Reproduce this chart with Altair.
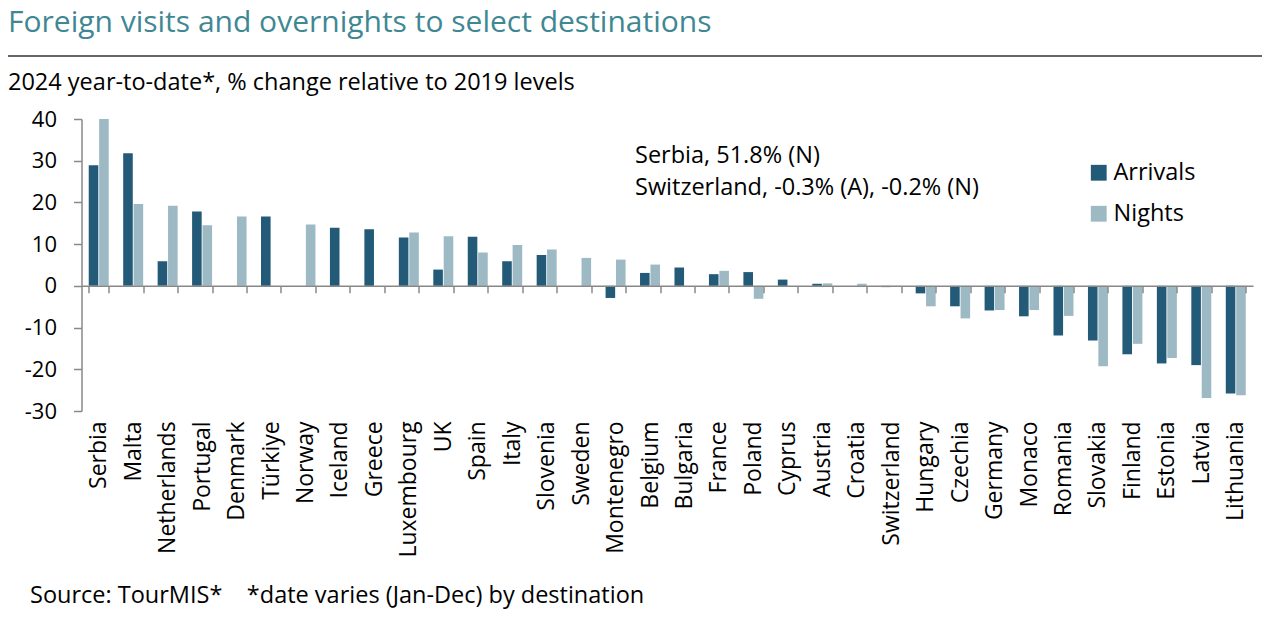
import altair as alt
import pandas as pd

countries = ["Serbia", "Malta", "Netherlands", "Portugal", "Denmark", "Türkiye", "Norway",
             "Iceland", "Greece", "Luxembourg", "UK", "Spain", "Italy", "Slovenia", "Sweden",
             "Montenegro", "Belgium", "Bulgaria", "France", "Poland", "Cyprus", "Austria",
             "Croatia", "Switzerland", "Hungary", "Czechia", "Germany", "Monaco", "Romania",
             "Slovakia", "Finland", "Estonia", "Latvia", "Lithuania"]
arrivals = [28.9, 31.8, 5.9, 17.8, None, 16.6, None,
            13.9, 13.6, 11.6, 3.9, 11.8, 5.9, 7.4, None,
            -2.9, 3.1, 4.4, 2.8, 3.3, 1.5, 0.5,
            None, -0.3, -1.8, -4.9, -5.9, -7.3, -11.9,
            -13.1, -16.4, -18.6, -19.0, -25.8]
nights = [51.8, 19.6, 19.2, 14.5, 16.6, None, 14.7,
          None, None, 12.8, 11.9, 8.0, 9.8, 8.7, 6.7,
          6.3, 5.1, None, 3.6, -3.1, None, 0.6,
          0.5, -0.2, -4.9, -7.8, -5.8, -5.8, -7.2,
          -19.3, -13.9, -17.3, -26.9, -26.2]
series = ["Arrivals", "Nights"]
colors = ["#235a78", "#9db9c3"]
y_ticks = [-30, -20, -10, 0, 10, 20, 30, 40]

title_text = "Foreign visits and overnights to select destinations"
subtitle_text = "2024 year-to-date*, % change relative to 2019 levels"
source_text = "Source: TourMIS*\u00a0\u00a0\u00a0\u00a0*date varies (Jan-Dec) by destination"
note_lines = ["Serbia, 51.8% (N)", "Switzerland, -0.3% (A), -0.2% (N)"]

rows = []
for c, a, n in zip(countries, arrivals, nights):
    if a is not None:
        rows.append({"country": c, "series": "Arrivals", "value": a})
    if n is not None:
        rows.append({"country": c, "series": "Nights", "value": n})
df = pd.DataFrame(rows)

W, H = 1171.5, 292
Y_MIN, Y_MAX = -30, 40
zero_from_bottom = H * (0 - Y_MIN) / (Y_MAX - Y_MIN)
TEXT_FONT = "Open Sans"
AXIS_FONT = "Open Sans"

bars = alt.Chart(df).mark_bar(clip=True).encode(
    x=alt.X("country:N", sort=countries,
            scale=alt.Scale(paddingInner=0.42, paddingOuter=0.21),
            axis=alt.Axis(title=None, labelAngle=-90, labelFontSize=23, labelFont=AXIS_FONT,
                          labelColor="black", offset=-zero_from_bottom, labelPadding=128,
                          tickBand="extent", tickSize=7, tickColor="#888888", tickWidth=1.5,
                          domainColor="#888888", domainWidth=1.5, zindex=1)),
    xOffset=alt.XOffset("series:N", sort=series, scale=alt.Scale(paddingInner=0.08)),
    y=alt.Y("value:Q", scale=alt.Scale(domain=[Y_MIN, Y_MAX], nice=False),
            axis=alt.Axis(title=None, values=y_ticks, grid=False, labelFontSize=22,
                          labelFont=AXIS_FONT, labelColor="black", labelPadding=17,
                          labelExpr="'' + datum.value",
                          tickSize=8, tickColor="#888888", tickWidth=1.5,
                          domainColor="#888888", domainWidth=1.5)),
    color=alt.Color("series:N", scale=alt.Scale(domain=series, range=colors),
                    legend=alt.Legend(title=None, orient="none", legendX=1005.5, legendY=42,
                                      symbolType="square", symbolSize=250, symbolStrokeWidth=0,
                                      labelFontSize=23.5, labelFont=TEXT_FONT, labelColor="black",
                                      labelOffset=3, rowPadding=16)),
)


def text_layer(txt, x, y, size, color="black", font=TEXT_FONT):
    return alt.Chart(pd.DataFrame({"t": [txt]})).mark_text(
        align="left", baseline="alphabetic", fontSize=size, font=font, color=color
    ).encode(text="t:N", x=alt.value(x), y=alt.value(y))


title = text_layer(title_text, -73.5, -87, 30, color="#3f8893")
underline = alt.Chart(pd.DataFrame({"t": [0]})).mark_rule(color="#333333", strokeWidth=1.5).encode(
    x=alt.value(-73.5), x2=alt.value(1180.5), y=alt.value(-63))
subtitle = text_layer(subtitle_text, -73.5, -29, 23.5)
note1 = text_layer(note_lines[0], 553.5, 44, 23.5)
note2 = text_layer(note_lines[1], 553.5, 76, 23.5)
source = text_layer(source_text, -51.5, 484, 23.5)

chart = alt.layer(bars, title, underline, subtitle, note1, note2, source).properties(
    width=W, height=H,
    autosize=alt.AutoSizeParams(type="none"),
    padding={"left": 73.5, "top": 111, "right": 19, "bottom": 200},
).configure_view(stroke=None)

chart.save("out.html", embed_options={"renderer": "svg", "actions": False})
